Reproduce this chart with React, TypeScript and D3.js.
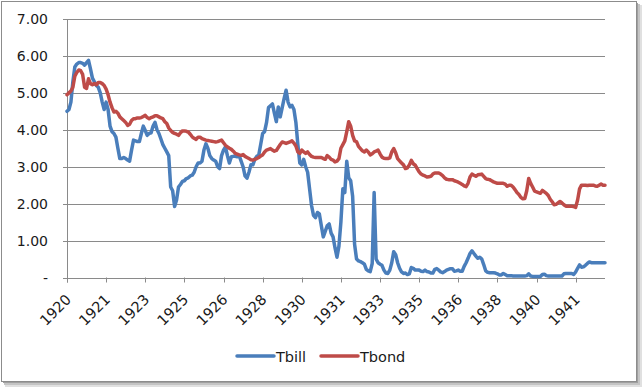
import React from "react";
import * as d3 from "d3";

const tbill: number[] = [
  4.50, 4.55, 4.75, 5.30, 5.70, 5.78, 5.82, 5.82, 5.80, 5.75, 5.82, 5.88,
  5.65, 5.40, 5.30, 5.20, 5.15, 5.00, 4.75, 4.55, 4.75, 4.55, 4.10, 3.95,
  3.90, 3.80, 3.50, 3.22, 3.22, 3.25, 3.22, 3.18, 3.15, 3.45, 3.72, 3.70,
  3.68, 3.68, 3.90, 4.10, 3.98, 3.85, 3.90, 3.92, 4.10, 4.20, 4.00, 3.90,
  3.75, 3.60, 3.50, 3.40, 3.30, 2.45, 2.35, 1.92, 2.10, 2.45, 2.52, 2.60,
  2.62, 2.68, 2.70, 2.75, 2.77, 2.85, 3.00, 3.10, 3.10, 3.15, 3.45, 3.62,
  3.50, 3.30, 3.22, 3.18, 3.15, 3.00, 2.95, 3.30, 3.45, 3.54, 3.30, 3.10,
  3.27, 3.28, 3.28, 3.27, 3.30, 3.15, 3.00, 2.75, 2.69, 2.85, 3.05, 3.05,
  3.20, 3.28, 3.31, 3.60, 3.90, 3.95, 4.20, 4.60, 4.65, 4.70, 4.45, 4.22,
  4.62, 4.35, 4.60, 4.85, 5.07, 4.75, 4.62, 4.66, 4.55, 4.20, 3.60, 3.10,
  3.05, 3.20, 3.00, 2.85, 2.40, 1.95, 1.68, 1.62, 1.76, 1.72, 1.40, 1.10,
  1.25, 1.40, 1.45, 1.20, 1.10, 0.80, 0.55, 0.85, 1.50, 2.40, 2.30, 3.15,
  2.70, 2.62, 2.20, 0.90, 0.50, 0.45, 0.43, 0.40, 0.36, 0.22, 0.18, 0.16,
  0.38, 2.30, 0.50, 0.40, 0.36, 0.33, 0.20, 0.12, 0.11, 0.20, 0.40, 0.70,
  0.62, 0.40, 0.25, 0.15, 0.11, 0.12, 0.08, 0.10, 0.27, 0.25, 0.20, 0.20,
  0.20, 0.17, 0.16, 0.20, 0.16, 0.15, 0.12, 0.12, 0.22, 0.24, 0.20, 0.15,
  0.13, 0.16, 0.20, 0.22, 0.24, 0.24, 0.17, 0.18, 0.20, 0.17, 0.17, 0.30,
  0.40, 0.52, 0.65, 0.72, 0.65, 0.58, 0.52, 0.55, 0.50, 0.35, 0.18, 0.14,
  0.13, 0.13, 0.13, 0.12, 0.10, 0.07, 0.07, 0.11, 0.08, 0.05, 0.05, 0.05,
  0.04, 0.04, 0.04, 0.04, 0.04, 0.04, 0.04, 0.05, 0.10, 0.04, 0.03, 0.03,
  0.03, 0.03, 0.03, 0.08, 0.09, 0.05, 0.04, 0.04, 0.04, 0.04, 0.04, 0.04,
  0.04, 0.04, 0.10, 0.11, 0.11, 0.11, 0.11, 0.08, 0.15, 0.25, 0.34, 0.28,
  0.29, 0.33, 0.38, 0.42, 0.40, 0.40, 0.40, 0.40, 0.40, 0.40, 0.40, 0.40,
];

const tbond: number[] = [
  4.95, 5.00, 5.05, 5.15, 5.45, 5.55, 5.62, 5.60, 5.50, 5.15, 5.12, 5.38,
  5.25, 5.22, 5.25, 5.22, 5.28, 5.28, 5.25, 5.20, 5.10, 4.95, 4.75, 4.60,
  4.48, 4.50, 4.45, 4.35, 4.30, 4.25, 4.20, 4.12, 4.15, 4.25, 4.30, 4.30,
  4.32, 4.32, 4.33, 4.36, 4.39, 4.33, 4.30, 4.33, 4.35, 4.38, 4.38, 4.35,
  4.32, 4.30, 4.22, 4.17, 4.05, 3.98, 3.93, 3.90, 3.88, 3.85, 3.92, 3.97,
  3.97, 3.96, 3.94, 3.88, 3.81, 3.77, 3.74, 3.80, 3.80, 3.76, 3.74, 3.72,
  3.71, 3.70, 3.69, 3.68, 3.67, 3.68, 3.70, 3.72, 3.65, 3.58, 3.54, 3.50,
  3.47, 3.42, 3.36, 3.34, 3.32, 3.31, 3.33, 3.28, 3.25, 3.22, 3.19, 3.18,
  3.20, 3.22, 3.25, 3.29, 3.32, 3.40, 3.45, 3.47, 3.49, 3.45, 3.42, 3.44,
  3.52, 3.60, 3.67, 3.65, 3.63, 3.65, 3.67, 3.70, 3.64, 3.56, 3.40, 3.36,
  3.45, 3.40, 3.36, 3.40, 3.33, 3.28, 3.26, 3.25, 3.25, 3.25, 3.25, 3.22,
  3.20, 3.30, 3.26, 3.20, 3.18, 3.13, 3.15, 3.22, 3.50, 3.60, 3.70, 3.95,
  4.22, 4.10, 3.85, 3.70, 3.68, 3.55, 3.49, 3.43, 3.40, 3.45, 3.40, 3.32,
  3.35, 3.40, 3.42, 3.45, 3.35, 3.26, 3.23, 3.22, 3.22, 3.24, 3.40, 3.49,
  3.38, 3.22, 3.16, 3.10, 3.05, 2.95, 2.97, 3.05, 3.17, 3.08, 3.04, 2.95,
  2.86, 2.80, 2.77, 2.75, 2.72, 2.73, 2.74, 2.80, 2.83, 2.83, 2.83, 2.80,
  2.76, 2.70, 2.66, 2.65, 2.65, 2.65, 2.62, 2.60, 2.58, 2.55, 2.52, 2.48,
  2.46, 2.55, 2.72, 2.80, 2.77, 2.74, 2.78, 2.79, 2.80, 2.74, 2.68, 2.66,
  2.65, 2.62, 2.59, 2.57, 2.55, 2.55, 2.55, 2.55, 2.53, 2.47, 2.50, 2.50,
  2.45, 2.38, 2.30, 2.25, 2.17, 2.13, 2.14, 2.35, 2.68, 2.55, 2.45, 2.34,
  2.32, 2.30, 2.28, 2.36, 2.32, 2.28, 2.22, 2.12, 2.05, 1.97, 1.98, 2.02,
  2.06, 2.02, 1.97, 1.93, 1.93, 1.93, 1.93, 1.92, 1.90, 2.10, 2.40, 2.50,
  2.50, 2.50, 2.49, 2.50, 2.50, 2.50, 2.48, 2.47, 2.50, 2.53, 2.50, 2.50,
];

const xTickLabels = ["1920", "1921", "1923", "1925", "1926", "1928", "1930", "1931", "1933", "1935", "1936", "1938", "1940", "1941"];
const yTicks = [0, 1, 2, 3, 4, 5, 6, 7];
const seriesNames = ["Tbill", "Tbond"];
const seriesColors = ["#4a7ebb", "#be4b48"];
const TICK_EVERY = 20;

export default function App() {
  const n = tbill.length;
  const x = d3.scaleLinear().domain([0, n - 1]).range([67, 605]);
  const y = d3.scaleLinear().domain([0, 7]).range([277.5, 19]);
  const line = d3
    .line<number>()
    .x((_, i) => x(i))
    .y((d) => y(d));
  const fmt = (v: number) => (v === 0 ? "-" : d3.format(".2f")(v));
  const font = "'DejaVu Sans', Verdana, sans-serif";
  const series = [tbill, tbond];

  return (
    <svg
      width={644}
      height={389}
      style={{ position: "absolute", left: 0, top: 0 }}
      fontFamily={font}
    >
      <rect x={0} y={0} width={644} height={389} fill="#ffffff" />
      {/* drop shadow */}
      <rect x={5} y={5} width={637} height={382} fill="#e0e0e0" />
      <rect x={4} y={4} width={636} height={381} fill="#c4c4c4" />
      <rect x={3} y={3} width={635} height={380} fill="#a0a0a0" />
      <rect x={1.5} y={1.5} width={635} height={380} fill="#ffffff" stroke="#8c8c8c" strokeWidth={1} />

      {/* gridlines */}
      {yTicks.map((t) => (
        <g key={t}>
          <line x1={63} x2={605} y1={Math.round(y(t)) + 0.5} y2={Math.round(y(t)) + 0.5} stroke="#8a8a8a" strokeWidth={1} />
          <text
            x={48}
            y={y(t) + 5}
            textAnchor="end"
            fontSize={14}
            fill="#1a1a1a"
          >
            {fmt(t)}
          </text>
        </g>
      ))}
      {/* y axis */}
      <line x1={67.5} x2={67.5} y1={y(7)} y2={y(0) + 5} stroke="#8a8a8a" strokeWidth={1} />

      {/* x ticks & labels */}
      {xTickLabels.map((lab, k) => {
        const xi = Math.round(x(k * TICK_EVERY)) + 0.5;
        return (
          <g key={lab + k}>
            <line x1={xi} x2={xi} y1={y(0)} y2={y(0) + 5} stroke="#8a8a8a" strokeWidth={1} />
            <text
              transform={`translate(${x(k * TICK_EVERY) + 5},${y(0) + 23}) rotate(-45)`}
              textAnchor="end"
              fontSize={14.5}
              fill="#1a1a1a"
            >
              {lab}
            </text>
          </g>
        );
      })}

      {/* series */}
      {series.map((s, k) => (
        <path
          key={seriesNames[k]}
          d={line(s) || ""}
          fill="none"
          stroke={seriesColors[k]}
          strokeWidth={3.5}
          strokeLinejoin="round"
          strokeLinecap="round"
        />
      ))}

      {/* legend */}
      {seriesNames.map((name, k) => {
        const lx = k === 0 ? 237 : 321;
        return (
          <g key={name}>
            <line x1={lx} x2={lx + 37} y1={356} y2={356} stroke={seriesColors[k]} strokeWidth={3.5} strokeLinecap="round" />
            <text x={lx + 39} y={361.5} fontSize={14.5} fill="#1a1a1a">
              {name}
            </text>
          </g>
        );
      })}
    </svg>
  );
}
